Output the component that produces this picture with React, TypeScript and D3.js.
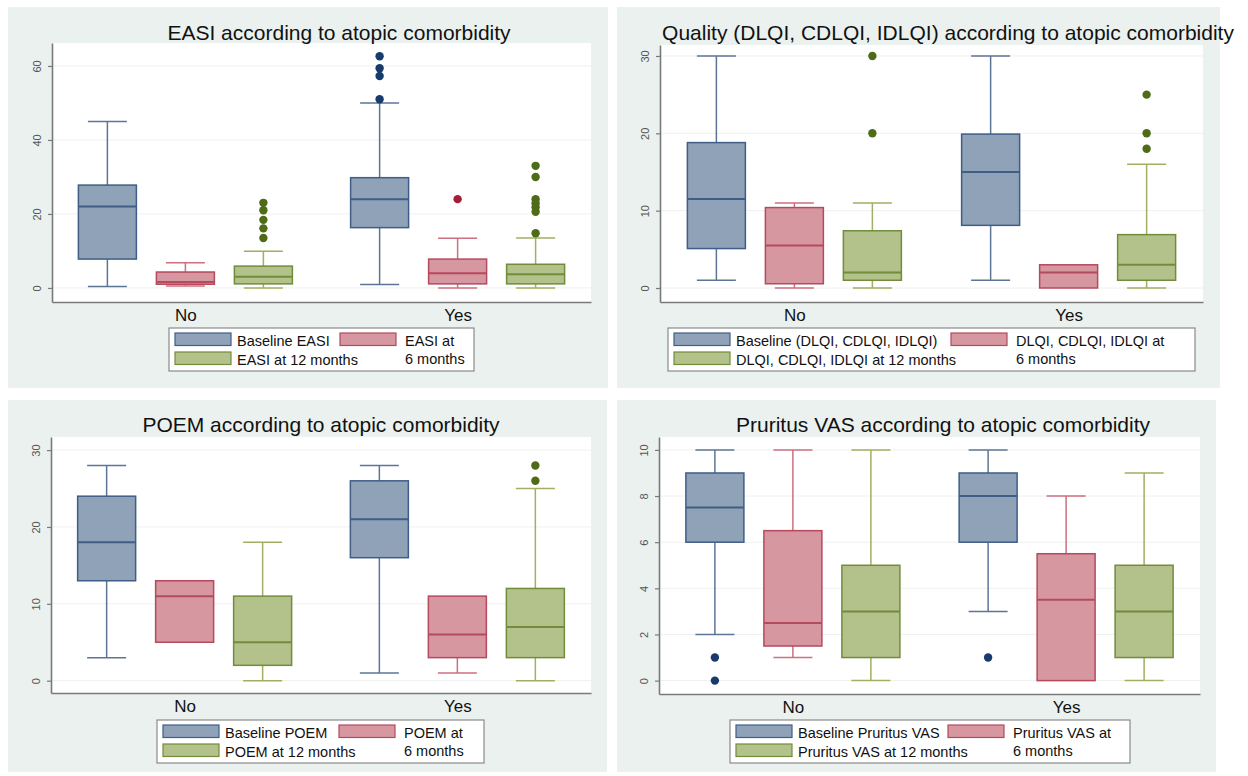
import React, { useEffect, useRef } from "react";
import * as d3 from "d3";

const groups = ["No", "Yes"];
const seriesKeys = ["base", "m6", "m12"];

// each row: [lower whisker, q1, median, q3, upper whisker], for No then Yes
const easiBaseline = [[0.4, 7.8, 22, 27.8, 45], [0.9, 16.3, 24, 29.8, 50]];
const easi6m = [[0.5, 1.0, 1.6, 4.3, 6.8], [0, 1.1, 4, 7.8, 13.4]];
const easi12m = [[0, 1.1, 3, 5.9, 9.9], [0, 1.1, 3.7, 6.4, 13.5]];
const easiOutliers = {
  base: [[], [51, 57.3, 59.4, 62.6]],
  m6: [[], [24]],
  m12: [[13.5, 16.1, 18.4, 21, 23], [14.8, 20.6, 21.8, 22.9, 24, 30, 33]],
};

const dlqiBaseline = [[1, 5.1, 11.5, 18.8, 30], [1, 8.1, 15, 19.9, 30]];
const dlqi6m = [[0, 0.55, 5.5, 10.4, 11], [0, 0, 2, 3, 3]];
const dlqi12m = [[0, 1, 2, 7.4, 11], [0, 1, 3, 6.9, 16]];
const dlqiOutliers = {
  base: [[], []],
  m6: [[], []],
  m12: [[20, 30], [18, 20, 25]],
};

const poemBaseline = [[3, 13, 18, 24, 28], [1, 16, 21, 26, 28]];
const poem6m = [[5, 5, 11, 13, 13], [1, 3, 6, 11, 11]];
const poem12m = [[0, 2, 5, 11, 18], [0, 3, 7, 12, 25]];
const poemOutliers = {
  base: [[], []],
  m6: [[], []],
  m12: [[], [26, 28]],
};

const vasBaseline = [[2, 6, 7.5, 9, 10], [3, 6, 8, 9, 10]];
const vas6m = [[1, 1.5, 2.5, 6.5, 10], [0, 0, 3.5, 5.5, 8]];
const vas12m = [[0, 1, 3, 5, 10], [0, 1, 3, 5, 9]];
const vasOutliers = {
  base: [[0, 1], [1]],
  m6: [[], []],
  m12: [[], []],
};

const easiTicks = [0, 20, 40, 60];
const dlqiTicks = [0, 10, 20, 30];
const poemTicks = [0, 10, 20, 30];
const vasTicks = [0, 2, 4, 6, 8, 10];

const W = 1248;
const H = 776;
const FONT = "'Liberation Sans', Arial, Helvetica, sans-serif";
const PANEL_BG = "#ebf1ef";

const palette: Record<string, { fill: string; stroke: string; whisker: string; dot: string }> = {
  base: { fill: "#8fa2b7", stroke: "#3e5e86", whisker: "#5c7597", dot: "#173b6d" },
  m6: { fill: "#d697a1", stroke: "#b54a5d", whisker: "#cc6f80", dot: "#a31f37" },
  m12: { fill: "#b3c18b", stroke: "#738c3c", whisker: "#a2ae60", dot: "#4e6c18" },
};

const panels = [
  {
    title: "EASI according to atopic comorbidity",
    titleX: 339, titleY: 40,
    bg: [8, 7, 600, 381],
    plot: { l: 52, r: 591, t: 43, b: 302 },
    yDomain: [-3.8, 66.2],
    ticks: easiTicks,
    stats: { base: easiBaseline, m6: easi6m, m12: easi12m },
    outliers: easiOutliers,
    legendText: ["Baseline EASI", "EASI at 12 months", "EASI at", "6 months"],
    legend: { x: 169, y: 328, w: 305, col2: 171 },
  },
  {
    title: "Quality (DLQI, CDLQI, IDLQI) according to atopic comorbidity",
    titleX: 948, titleY: 40,
    bg: [617, 7, 603, 381],
    plot: { l: 660, r: 1203, t: 45, b: 302 },
    yDomain: [-1.81, 31.42],
    ticks: dlqiTicks,
    stats: { base: dlqiBaseline, m6: dlqi6m, m12: dlqi12m },
    outliers: dlqiOutliers,
    legendText: ["Baseline (DLQI, CDLQI, IDLQI)", "DLQI, CDLQI, IDLQI at 12 months", "DLQI, CDLQI, IDLQI at", "6 months"],
    legend: { x: 668, y: 328, w: 527, col2: 283 },
  },
  {
    title: "POEM according to atopic comorbidity",
    titleX: 321, titleY: 432,
    bg: [8, 400, 599, 372],
    plot: { l: 51, r: 591, t: 437, b: 693 },
    yDomain: [-1.6, 31.7],
    ticks: poemTicks,
    stats: { base: poemBaseline, m6: poem6m, m12: poem12m },
    outliers: poemOutliers,
    legendText: ["Baseline POEM", "POEM at 12 months", "POEM at", "6 months"],
    legend: { x: 157, y: 720, w: 327, col2: 182 },
  },
  {
    title: "Pruritus VAS according to atopic comorbidity",
    titleX: 943, titleY: 432,
    bg: [617, 400, 599, 372],
    plot: { l: 659, r: 1200, t: 437, b: 694 },
    yDomain: [-0.58, 10.56],
    ticks: vasTicks,
    stats: { base: vasBaseline, m6: vas6m, m12: vas12m },
    outliers: vasOutliers,
    legendText: ["Baseline Pruritus VAS", "Pruritus VAS at 12 months", "Pruritus VAS at", "6 months"],
    legend: { x: 730, y: 720, w: 400, col2: 218 },
  },
];

type Panel = (typeof panels)[number];

function drawPanel(svg: d3.Selection<SVGSVGElement, unknown, null, undefined>, p: Panel) {
  const { l, r, t, b } = p.plot;
  const g = svg.append("g");

  g.append("rect")
    .attr("x", p.bg[0]).attr("y", p.bg[1])
    .attr("width", p.bg[2]).attr("height", p.bg[3])
    .attr("fill", PANEL_BG);

  g.append("rect")
    .attr("x", l).attr("y", t)
    .attr("width", r - l).attr("height", b - t)
    .attr("fill", "#ffffff");

  const y = d3.scaleLinear().domain(p.yDomain).range([b, t]);
  const xg = d3.scalePoint().domain(groups).range([l, r]).padding(0.49);
  const xs = d3.scalePoint().domain(seriesKeys).range([-78, 78]);
  const boxW = 58;
  const capW = 39;

  // faint gridlines
  g.selectAll(".grid")
    .data(p.ticks)
    .enter()
    .append("line")
    .attr("x1", l).attr("x2", r)
    .attr("y1", (d) => y(d)).attr("y2", (d) => y(d))
    .attr("stroke", "#eef1ef")
    .attr("stroke-width", 1);

  seriesKeys.forEach((key) => {
    const c = palette[key];
    const rows = (p.stats as Record<string, number[][]>)[key];
    const outs = (p.outliers as Record<string, number[][]>)[key];
    rows.forEach((row, i) => {
      const [lo, q1, med, q3, hi] = row;
      const cx = xg(groups[i])! + xs(key)!;

      // whiskers
      if (hi > q3) {
        g.append("line").attr("x1", cx).attr("x2", cx).attr("y1", y(hi)).attr("y2", y(q3))
          .attr("stroke", c.whisker).attr("stroke-width", 1.5);
        g.append("line").attr("x1", cx - capW / 2).attr("x2", cx + capW / 2).attr("y1", y(hi)).attr("y2", y(hi))
          .attr("stroke", c.whisker).attr("stroke-width", 1.5);
      }
      if (lo < q1) {
        g.append("line").attr("x1", cx).attr("x2", cx).attr("y1", y(q1)).attr("y2", y(lo))
          .attr("stroke", c.whisker).attr("stroke-width", 1.5);
        g.append("line").attr("x1", cx - capW / 2).attr("x2", cx + capW / 2).attr("y1", y(lo)).attr("y2", y(lo))
          .attr("stroke", c.whisker).attr("stroke-width", 1.5);
      }

      g.append("rect")
        .attr("x", cx - boxW / 2).attr("y", y(q3))
        .attr("width", boxW).attr("height", y(q1) - y(q3))
        .attr("fill", c.fill)
        .attr("stroke", c.stroke)
        .attr("stroke-width", 1.5);

      g.append("line")
        .attr("x1", cx - boxW / 2).attr("x2", cx + boxW / 2)
        .attr("y1", y(med)).attr("y2", y(med))
        .attr("stroke", c.stroke)
        .attr("stroke-width", 2);

      g.selectAll(null)
        .data(outs[i])
        .enter()
        .append("circle")
        .attr("cx", cx)
        .attr("cy", (d) => y(d))
        .attr("r", 4.2)
        .attr("fill", c.dot);
    });
  });

  // y axis with rotated labels
  const yAxis = g.append("g")
    .attr("transform", `translate(${l},0)`)
    .call(d3.axisLeft(y).tickValues(p.ticks).tickSize(4).tickSizeOuter(0));
  yAxis.select(".domain").attr("stroke", "#7a7a7a").attr("stroke-width", 1.6);
  yAxis.selectAll(".tick line").attr("stroke", "#7a7a7a").attr("stroke-width", 1.2);
  yAxis.selectAll(".tick text")
    .attr("transform", "rotate(-90)")
    .attr("x", 0).attr("y", -11).attr("dy", "0")
    .attr("text-anchor", "middle")
    .attr("fill", "#555")
    .style("font-family", FONT)
    .style("font-size", "11px");

  // x axis with group labels
  const xAxis = g.append("g")
    .attr("transform", `translate(0,${b})`)
    .call(d3.axisBottom(xg).tickSize(0).tickSizeOuter(0).tickPadding(7));
  xAxis.select(".domain").attr("stroke", "#7a7a7a").attr("stroke-width", 1.6);
  xAxis.selectAll(".tick text")
    .attr("fill", "#111")
    .style("font-family", FONT)
    .style("font-size", "17px");

  g.append("text")
    .attr("x", p.titleX).attr("y", p.titleY)
    .attr("text-anchor", "middle")
    .attr("fill", "#111")
    .style("font-family", FONT)
    .style("font-size", "21px")
    .text(p.title);

  // legend
  const lg = p.legend;
  const leg = g.append("g").attr("transform", `translate(${lg.x},${lg.y})`);
  leg.append("rect")
    .attr("width", lg.w).attr("height", 43)
    .attr("fill", "#fff")
    .attr("stroke", "#8a8a8a")
    .attr("stroke-width", 1.2);

  const items = [
    { key: "base", x: 6, y: 5, lines: [p.legendText[0]] },
    { key: "m12", x: 6, y: 24, lines: [p.legendText[1]] },
    { key: "m6", x: lg.col2, y: 5, lines: [p.legendText[2], p.legendText[3]] },
  ];
  items.forEach((it) => {
    const c = palette[it.key];
    leg.append("rect")
      .attr("x", it.x).attr("y", it.y)
      .attr("width", 56).attr("height", 12.5)
      .attr("fill", c.fill)
      .attr("stroke", c.stroke)
      .attr("stroke-width", 1.2);
    it.lines.forEach((txt, j) => {
      leg.append("text")
        .attr("x", it.x + (it.key === "m6" ? 65 : 62))
        .attr("y", it.y + 12.5 + j * 18.5)
        .attr("fill", "#111")
        .style("font-family", FONT)
        .style("font-size", "14.5px")
        .text(txt);
    });
  });
}

const App: React.FC = () => {
  const svgRef = useRef<SVGSVGElement | null>(null);

  useEffect(() => {
    if (!svgRef.current) return;
    const svg = d3.select(svgRef.current);
    svg.selectAll("*").remove();
    svg.append("rect").attr("width", W).attr("height", H).attr("fill", "#fff");
    panels.forEach((p) => drawPanel(svg, p));
  }, []);

  return (
    <div style={{ position: "absolute", left: 0, top: 0 }}>
      <svg ref={svgRef} width={W} height={H} style={{ display: "block" }}></svg>
    </div>
  );
};

export default App;
